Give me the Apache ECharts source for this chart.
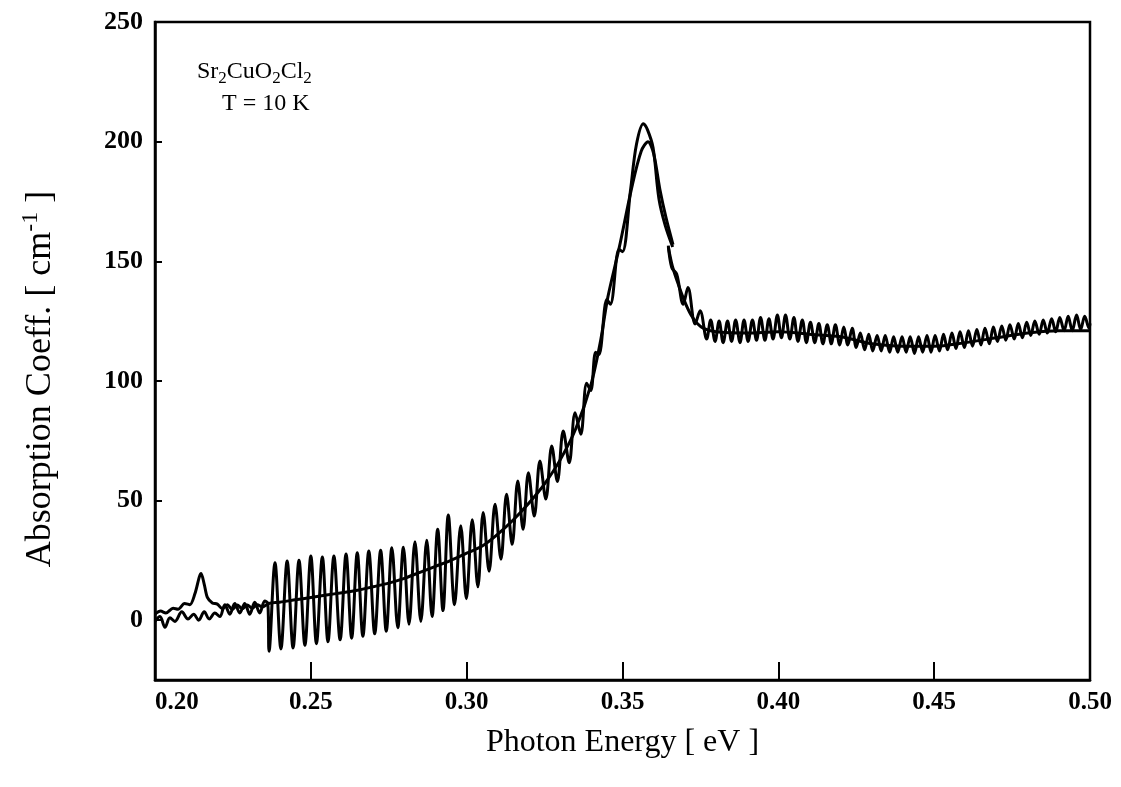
<!DOCTYPE html>
<html><head><meta charset="utf-8">
<script src="https://cdn.jsdelivr.net/npm/echarts@6/dist/echarts.min.js"></script>
<style>html,body{margin:0;padding:0;background:#fff}#c{width:1121px;height:787px}</style>
</head><body><div id="c"></div>
<script>
// Axis ticks
const xTicks = [0.20, 0.25, 0.30, 0.35, 0.40, 0.45, 0.50];
const yTicks = [0, 50, 100, 150, 200, 250];

// Curve with interference fringes: [photon energy eV, absorption cm^-1]
const fringeLow = [[0.2000,-0.5],[0.2016,1.5],[0.2032,-3],[0.2048,1],[0.2064,-0.5],[0.2086,3.5],[0.2106,0.5],[0.2124,2.5],[0.2140,0],[0.2158,3.5],[0.2174,0.5],[0.2192,3],[0.2208,1.5],[0.2224,6.5],[0.2240,2.5],[0.2256,7],[0.2272,3],[0.2288,7],[0.2304,2.5],[0.2320,7.5],[0.2336,3],[0.2352,8],[0.2362,7]];
const fringeOsc = [[0.2366,-13],[0.2385,24],[0.2404,-12],[0.2424,24.7],[0.2443,-11.6],[0.2462,25],[0.2481,-10.5],[0.2500,26.8],[0.2518,-9.8],[0.2537,26.4],[0.2555,-9],[0.2574,26.8],[0.2594,-8.2],[0.2613,27.7],[0.2631,-7.5],[0.2649,28.2],[0.2667,-6.7],[0.2686,28.9],[0.2705,-5.7],[0.2724,29.2],[0.2742,-4.6],[0.2760,30.3],[0.2779,-3.2],[0.2797,30.5],[0.2815,-1.7],[0.2834,32.8],[0.2853,-0.5],[0.2872,33.4],[0.2889,1.5],[0.2907,38],[0.2924,4],[0.2941,44],[0.2961,6.5],[0.2981,39.5],[0.2999,9],[0.3018,42],[0.3036,14],[0.3053,45],[0.3072,20.5],[0.3091,48.4],[0.3110,25.5],[0.3128,52.6],[0.3146,31.7],[0.3164,58.2],[0.3181,38],[0.3198,61.6],[0.3217,43.5],[0.3235,66.5],[0.3254,50.6],[0.3273,72.8],[0.3291,58],[0.3310,79.1],[0.3329,65.8],[0.3348,86.7],[0.3366,77.7],[0.3385,99]];
const fringePeak = [[0.3398,96],[0.3414,112],[0.3424,111],[0.3450,134],[0.3461,132],[0.3489,155],[0.3500,154],[0.3526,180],[0.3545,199],[0.3567,207.5],[0.3580,205],[0.3598,197.5],[0.3617,176],[0.3637,165],[0.3661,156],[0.3662,null]];
const fringeHigh = [[0.3647,156.5],[0.3658,147.4],[0.3674,144.6],[0.3695,132],[0.3710,139],[0.3733,123.8],[0.3749,129.3],[0.3770,117.5],
[0.3783,125.5],[0.3797,116.5],[0.3810,125],[0.3823,116],[0.3837,125],[0.3850,116.5],[0.3863,125.5],[0.3877,116],[0.3890,125.5],[0.3903,116.5],[0.3917,125.5],[0.3930,117],[0.3943,126.5],[0.3957,117],[0.3970,126],[0.3983,117.5],[0.3997,127.5],[0.4010,118],[0.4023,127.5],[0.4037,117.5],[0.4050,126.5],[0.4063,116.5],[0.4077,125.5],[0.4090,116],[0.4103,124.5],[0.4117,116],[0.4130,124],[0.4143,115.5],[0.4157,123.5],[0.4170,115.5],[0.4183,123.5],[0.4197,115],[0.4210,122.5],[0.4223,115],[0.4237,122],[0.4250,114],[0.4263,120],[0.4277,113],[0.4290,119.5],[0.4303,112.5],[0.4317,119],[0.4330,112.5],[0.4343,119],[0.4357,112],[0.4370,118.5],[0.4383,112],[0.4397,118.5],[0.4410,112],[0.4423,118.5],[0.4437,111.5],[0.4450,118.5],[0.4463,112],[0.4477,119],[0.4490,112],[0.4503,119],[0.4517,112.5],[0.4530,119.5],[0.4543,113],[0.4557,120],[0.4570,113.5],[0.4583,120.5],[0.4597,114],[0.4610,121],[0.4623,114.5],[0.4637,121.5],[0.4650,115],[0.4663,122],[0.4677,115.5],[0.4690,122.5],[0.4703,116.5],[0.4717,123],[0.4730,117],[0.4743,123.5],[0.4757,117.5],[0.4770,124],[0.4783,118],[0.4797,124.5],[0.4810,119],[0.4823,125],[0.4837,119.5],[0.4850,125.5],[0.4863,120],[0.4877,126],[0.4890,120.5],[0.4903,126.5],[0.4917,121],[0.4930,127],[0.4943,121],[0.4957,127.5],[0.4970,121.5],[0.4983,127],[0.4997,122],[0.5000,124]];

// Fringe-free (smooth) curve
const smoothLow = [[0.2000,2.5],[0.2018,3.8],[0.2035,3],[0.2058,5],[0.2074,4.6],[0.2095,7],[0.2112,6.5],[0.2128,11],[0.2148,19.5],[0.2158,15],[0.2168,9.5],[0.2184,7.2],[0.2200,6.7],[0.2216,4.8],[0.2232,6.5],[0.2248,4.5],[0.2264,6.3],[0.2280,4.8],[0.2296,6.3],[0.2312,5],[0.2328,6.5],[0.2344,5.5]];
const smoothRise = [[0.2365,7],[0.2400,7.5],[0.2450,8.5],[0.2500,9.5],[0.2550,10.5],[0.2600,11.5],[0.2650,12.5],[0.2700,14],[0.2750,15.5],[0.2800,17.5],[0.2850,20],[0.2900,22.5],[0.2950,25],[0.3000,28],[0.3050,31],[0.3100,36],[0.3150,42],[0.3200,49],[0.3250,57],[0.3300,67],[0.3350,80],[0.3400,99],[0.3430,117],[0.3453,135],[0.3490,156],[0.3530,181],[0.3560,196],[0.3582,200],[0.3600,195],[0.3620,180],[0.3640,168],[0.3662,157],[0.3663,null]];
const smoothHigh = [[0.3647,156],[0.3660,148],[0.3680,140],[0.3700,133],[0.3720,127.5],[0.3740,124],[0.3760,122],[0.3800,120.5],[0.3900,120],[0.4000,120.5],[0.4100,119.5],[0.4200,118.5],[0.4250,117],[0.4300,115.5],[0.4400,114.5],[0.4500,114.5],[0.4600,116],[0.4700,118],[0.4800,120],[0.4900,121],[0.5000,121]];

const toData = arr => arr.map(p => [p[0], p[1] === null ? '-' : p[1]]);
const fringeData = toData([].concat(fringeLow, fringeOsc, fringePeak, fringeHigh));
const smoothData = toData([].concat(smoothLow, smoothRise, smoothHigh));

const FONT = '"Liberation Serif", "DejaVu Serif", serif';
const chart = echarts.init(document.getElementById('c'), null, {renderer: 'canvas'});
chart.setOption({
  animation: false,
  backgroundColor: '#fff',
  grid: {left: 155, right: 31, top: 22, bottom: 107, show: true, borderColor: '#000', borderWidth: 2.5, containLabel: false},
  xAxis: {
    type: 'value', min: 0.2, max: 0.5,
    name: 'Photon Energy [ eV ]', nameLocation: 'middle', nameGap: 47,
    nameTextStyle: {fontFamily: FONT, fontSize: 32, color: '#000'},
    axisLine: {onZero: false, lineStyle: {color: '#000', width: 2.5}},
    axisTick: {inside: true, length: 18, customValues: xTicks, lineStyle: {color: '#000', width: 2}},
    axisLabel: {customValues: xTicks, formatter: v => v.toFixed(2), fontFamily: FONT, fontSize: 25, fontWeight: 'bold', color: '#000', margin: 10, alignMinLabel: 'left'},
    splitLine: {show: false}
  },
  yAxis: {
    type: 'value', min: -25, max: 250,
    axisLine: {onZero: false, lineStyle: {color: '#000', width: 2.5}},
    axisTick: {inside: true, length: 7, customValues: yTicks, lineStyle: {color: '#000', width: 2}},
    axisLabel: {customValues: yTicks, fontFamily: FONT, fontSize: 26, fontWeight: 'bold', color: '#000', margin: 12},
    splitLine: {show: false}
  },
  graphic: [
    {type: 'text', x: 41, y: 379, rotation: Math.PI / 2, style: {
      text: '{n|Absorption Coeff. [ cm}{sup|-1}{n| ]}', align: 'center', verticalAlign: 'middle',
      rich: {
        n: {fontFamily: FONT, fontSize: 36, fill: '#000', lineHeight: 44, verticalAlign: 'middle'},
        sup: {fontFamily: FONT, fontSize: 24, fill: '#000', lineHeight: 44, verticalAlign: 'top'}}}},
    {type: 'text', left: 197, top: 60, style: {text: '{n|Sr}{s|2}{n|CuO}{s|2}{n|Cl}{s|2}', rich: {
      n: {fontFamily: FONT, fontSize: 24, fill: '#000', lineHeight: 30, verticalAlign: 'middle'},
      s: {fontFamily: FONT, fontSize: 17, fill: '#000', lineHeight: 30, verticalAlign: 'bottom'}}}},
    {type: 'text', left: 222, top: 92, style: {text: 'T = 10 K', fontFamily: FONT, fontSize: 24, fill: '#000'}}
  ],
  series: [
    {type: 'line', name: 'fringes', data: fringeData, showSymbol: false, symbol: 'none', smooth: 0.35, connectNulls: false,
     lineStyle: {color: '#000', width: 3}, z: 3},
    {type: 'line', name: 'smooth', data: smoothData, showSymbol: false, symbol: 'none', smooth: 0.3, connectNulls: false,
     lineStyle: {color: '#000', width: 3}, z: 2}
  ]
});
</script></body></html>
